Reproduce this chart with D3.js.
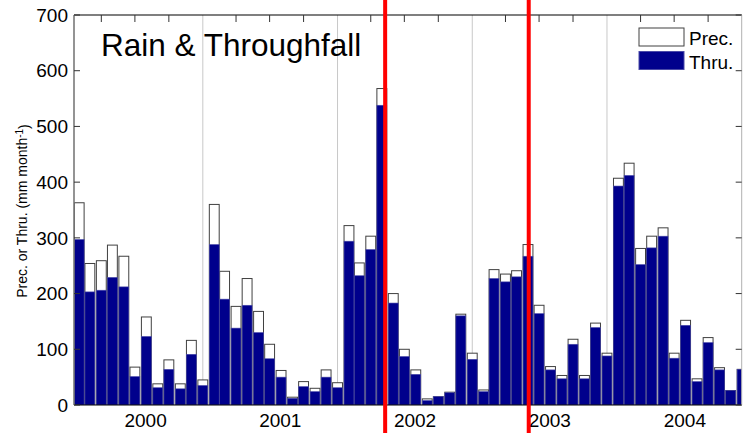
<!DOCTYPE html>
<html>
<head>
<meta charset="utf-8">
<script src="https://cdn.jsdelivr.net/npm/d3@7"></script>
<style>
	body { margin: 0; background: #fff; }
	text { font-family: "Liberation Sans", Arial, Helvetica, sans-serif; fill: #000; }
</style>
</head>
<body>
<div id="RainChartView"></div>
<script>

// monthly totals, bar placed on the 1st of the month
var months = [
	"2000-02","2000-03","2000-04","2000-05","2000-06","2000-07","2000-08","2000-09","2000-10","2000-11","2000-12","2001-01",
	"2001-02","2001-03","2001-04","2001-05","2001-06","2001-07","2001-08","2001-09","2001-10","2001-11","2001-12","2002-01",
	"2002-02","2002-03","2002-04","2002-05","2002-06","2002-07","2002-08","2002-09","2002-10","2002-11","2002-12","2003-01",
	"2003-02","2003-03","2003-04","2003-05","2003-06","2003-07","2003-08","2003-09","2003-10","2003-11","2003-12","2004-01",
	"2004-02","2004-03","2004-04","2004-05","2004-06","2004-07","2004-08","2004-09","2004-10","2004-11","2004-12","2005-01"
];
var prec = [
	363, 254, 259, 287, 267, 68, 158, 38, 81, 38, 116, 45,
	360, 240, 177, 227, 168, 109, 62, 14, 42, 30, 63, 40,
	322, 255, 303, 568, 200, 100, 63, 11, 15, 23, 163, 93,
	27, 243, 235, 241, 288, 179, 69, 53, 118, 53, 147, 93,
	407, 434, 281, 303, 318, 93, 152, 47, 121, 67, 26, 64
];
var thru = [
	297, 203, 206, 229, 212, 51, 123, 31, 64, 29, 91, 35,
	288, 190, 138, 179, 130, 83, 50, 12, 33, 24, 50, 31,
	294, 232, 279, 538, 183, 87, 55, 8, 15, 22, 160, 82,
	24, 227, 221, 230, 267, 164, 63, 47, 109, 47, 139, 88,
	393, 412, 252, 282, 303, 84, 143, 42, 112, 63, 26, 64
];
var yTicks = [0, 100, 200, 300, 400, 500, 600, 700];
var yearLabels = ["2000", "2001", "2002", "2003", "2004"];
var markerDates = ["2002-05-10", "2003-06-03"];
var legendLabels = ["Prec.", "Thru."];

RainChart = function(){

	this.svg = null;
	this.x = null;
	this.y = null;
	this.init();
}

RainChart.prototype.init = function() {

	var parseDay = d3.timeParse("%Y-%m-%d");

	this.svg = d3.select(RainChart.div)
				.append("svg")
				.attr("width", RainChart.width)
				.attr("height", RainChart.height);

	this.x = d3.scaleTime()
				.domain([parseDay("2000-01-18"), parseDay("2004-12-31")])
				.range([RainChart.left, RainChart.right]);

	this.y = d3.scaleLinear()
				.domain([0, 700])
				.range([RainChart.bottom, RainChart.top]);
};

RainChart.prototype.drawGrid = function(){

	var that = this;
	var years = d3.timeYear.range(this.x.domain()[0], this.x.domain()[1]);

	this.svg.append("g")
		.selectAll("line")
		.data(years)
		.join("line")
		.attr("x1", function(d){ return that.x(d); })
		.attr("x2", function(d){ return that.x(d); })
		.attr("y1", RainChart.top)
		.attr("y2", RainChart.bottom)
		.attr("stroke", "#c8c8c8")
		.attr("stroke-width", 1);
};

RainChart.prototype.drawBars = function(){

	var that = this;
	var parseMonth = d3.timeParse("%Y-%m");
	var oneYear = this.x(new Date(2002, 0, 1)) - this.x(new Date(2001, 0, 1));
	var barW = oneYear / 12 * 0.88;

	var rows = months.map(function(m, i){
		return { date: parseMonth(m), prec: prec[i], thru: thru[i] };
	});

	this.svg.append("clipPath")
		.attr("id", "plotClip")
		.append("rect")
		.attr("x", RainChart.left)
		.attr("y", 0)
		.attr("width", RainChart.right - RainChart.left)
		.attr("height", RainChart.bottom);

	var g = this.svg.append("g").attr("clip-path", "url(#plotClip)");

	g.selectAll("rect.prec")
		.data(rows)
		.join("rect")
		.attr("class", "prec")
		.attr("x", function(d){ return that.x(d.date) - barW/2; })
		.attr("y", function(d){ return that.y(d.prec); })
		.attr("width", barW)
		.attr("height", function(d){ return that.y(0) - that.y(d.prec); })
		.attr("fill", "#fff")
		.attr("stroke", "#404040")
		.attr("stroke-width", 1);

	g.selectAll("rect.thru")
		.data(rows)
		.join("rect")
		.attr("class", "thru")
		.attr("x", function(d){ return that.x(d.date) - barW/2; })
		.attr("y", function(d){ return that.y(d.thru); })
		.attr("width", barW)
		.attr("height", function(d){ return that.y(0) - that.y(d.thru); })
		.attr("fill", "#00008c")
		.attr("stroke", "#4a4aa8")
		.attr("stroke-width", 0.6);
};

RainChart.prototype.drawAxes = function(){

	var that = this;
	var quarters = d3.timeMonth.every(3).range(this.x.domain()[0], this.x.domain()[1])
					.filter(function(d){ return d.getMonth() != 0; });

	// frame
	this.svg.append("line")
		.attr("x1", RainChart.left).attr("x2", RainChart.right)
		.attr("y1", RainChart.top).attr("y2", RainChart.top)
		.attr("stroke", "#000").attr("stroke-width", 1.2);
	this.svg.append("line")
		.attr("x1", RainChart.left).attr("x2", RainChart.right)
		.attr("y1", RainChart.bottom).attr("y2", RainChart.bottom)
		.attr("stroke", "#000").attr("stroke-width", 1.2);
	this.svg.append("line")
		.attr("x1", RainChart.left).attr("x2", RainChart.left)
		.attr("y1", RainChart.top).attr("y2", RainChart.bottom)
		.attr("stroke", "#707070").attr("stroke-width", 1.5);
	this.svg.append("line")
		.attr("x1", RainChart.right).attr("x2", RainChart.right)
		.attr("y1", RainChart.top).attr("y2", RainChart.bottom)
		.attr("stroke", "#b0b0b0").attr("stroke-width", 1);

	// top ticks, quarterly, pointing in
	this.svg.append("g")
		.selectAll("line")
		.data(quarters)
		.join("line")
		.attr("x1", function(d){ return that.x(d); })
		.attr("x2", function(d){ return that.x(d); })
		.attr("y1", RainChart.top)
		.attr("y2", RainChart.top + 7)
		.attr("stroke", "#333");

	// y ticks on both sides
	var yt = this.svg.append("g")
		.selectAll("g")
		.data(yTicks)
		.join("g")
		.attr("transform", function(d){ return "translate(0," + that.y(d) + ")"; });

	yt.append("line")
		.attr("x1", RainChart.left).attr("x2", RainChart.left + 6)
		.attr("stroke", "#333");
	yt.append("line")
		.attr("x1", RainChart.right - 6).attr("x2", RainChart.right)
		.attr("stroke", "#333");
	yt.append("text")
		.attr("x", RainChart.left - 6)
		.attr("dy", "0.35em")
		.attr("text-anchor", "end")
		.style("font-size", "19px")
		.text(function(d){ return d; });

	// year labels under mid year
	this.svg.append("g")
		.selectAll("text")
		.data(yearLabels)
		.join("text")
		.attr("x", function(d){ return that.x(new Date(+d, 6, 30)); })
		.attr("y", 427)
		.attr("text-anchor", "middle")
		.style("font-size", "19px")
		.text(function(d){ return d; });

	var yl = this.svg.append("text")
		.attr("transform", "translate(27,211) rotate(-90)")
		.attr("text-anchor", "middle")
		.style("font-size", "14px");
	yl.append("tspan").text("Prec. or Thru. (mm month");
	yl.append("tspan").attr("dy", "-0.45em").style("font-size", "10px").text("-1");
	yl.append("tspan").attr("dy", "0.45em").text(")");
};

RainChart.prototype.drawLegend = function(){

	var fills = ["#fff", "#00008c"];
	var strokes = ["#404040", "#4a4aa8"];

	var lg = this.svg.append("g")
		.selectAll("g")
		.data(legendLabels)
		.join("g")
		.attr("transform", function(d, i){ return "translate(639," + (28 + i*23.5) + ")"; });

	lg.append("rect")
		.attr("width", 45)
		.attr("height", 18)
		.attr("fill", function(d, i){ return fills[i]; })
		.attr("stroke", function(d, i){ return strokes[i]; })
		.attr("stroke-width", 1);
	lg.append("text")
		.attr("x", 50)
		.attr("y", 17)
		.style("font-size", "19px")
		.text(function(d){ return d; });

	this.svg.append("text")
		.attr("x", 101)
		.attr("y", 56)
		.style("font-size", "31.5px")
		.text("Rain & Throughfall");
};

RainChart.prototype.drawMarkers = function(){

	var that = this;
	var parseDay = d3.timeParse("%Y-%m-%d");

	this.svg.append("g")
		.selectAll("line")
		.data(markerDates)
		.join("line")
		.attr("x1", function(d){ return that.x(parseDay(d)); })
		.attr("x2", function(d){ return that.x(parseDay(d)); })
		.attr("y1", 0)
		.attr("y2", RainChart.height)
		.attr("stroke", "#ff0000")
		.attr("stroke-width", 4);
};

RainChart.prototype.render = function(){

	this.drawGrid();
	this.drawBars();
	this.drawAxes();
	this.drawLegend();
	this.drawMarkers();
	console.log("render done");
};

RainChart.width = 743;
RainChart.height = 433;
RainChart.left = 74;
RainChart.right = 741.7;
RainChart.top = 15;
RainChart.bottom = 405;
RainChart.div = "#RainChartView";

var chart = new RainChart();
chart.render();

</script>
</body>
</html>
